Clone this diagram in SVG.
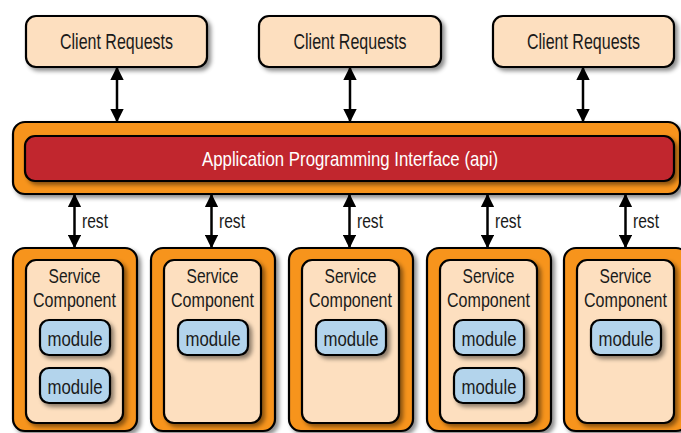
<svg xmlns="http://www.w3.org/2000/svg" width="681" height="433" viewBox="0 0 681 433">
<defs>
<filter id="sh" x="-20%" y="-20%" width="150%" height="150%">
<feDropShadow dx="3" dy="3" stdDeviation="2" flood-color="#000" flood-opacity="0.45"/>
</filter>
<marker id="ah" viewBox="0 0 10 10" refX="9" refY="5" markerWidth="5.4" markerHeight="5.4" markerUnits="strokeWidth" orient="auto-start-reverse">
<path d="M0,0 L10,5 L0,10 z" fill="#000"/>
</marker>
</defs>
<style>
.client{fill:#fddfbf;stroke:#000;stroke-width:2.2;filter:url(#sh)}
.orange{fill:#f7941d;stroke:#000;stroke-width:2.2;filter:url(#sh)}
.beige{fill:#fddfbf;stroke:#000;stroke-width:2.2;filter:url(#sh)}
.red{fill:#c1272d;stroke:#000;stroke-width:2.2;filter:url(#sh)}
.mod{fill:#b3d4ec;stroke:#000;stroke-width:2.2;filter:url(#sh)}
.t{font-family:"Liberation Sans",Arial,sans-serif;fill:#1a1a1a}
.conn line{stroke:#000;stroke-width:2.5;marker-start:url(#ah);marker-end:url(#ah)}
</style>

<g id="client1">
<rect class="client" x="26" y="16" width="181" height="51" rx="10"/>
<text class="t" x="116.5" y="49" font-size="22" text-anchor="middle" textLength="113" lengthAdjust="spacingAndGlyphs">Client Requests</text>
</g>
<g id="client2">
<rect class="client" x="259" y="16" width="182" height="51" rx="10"/>
<text class="t" x="350" y="49" font-size="22" text-anchor="middle" textLength="113" lengthAdjust="spacingAndGlyphs">Client Requests</text>
</g>
<g id="client3">
<rect class="client" x="493" y="16" width="181" height="51" rx="10"/>
<text class="t" x="583.5" y="49" font-size="22" text-anchor="middle" textLength="113" lengthAdjust="spacingAndGlyphs">Client Requests</text>
</g>

<g id="api">
<rect class="orange" x="13" y="122" width="667" height="72" rx="12"/>
<rect class="red" x="25" y="136" width="649" height="45" rx="10"/>
<text class="t" x="350" y="166" font-size="21" text-anchor="middle" style="fill:#fff" textLength="296" lengthAdjust="spacingAndGlyphs">Application Programming Interface (api)</text>
</g>

<g id="svc1">
<rect class="orange" x="13" y="248" width="124" height="183" rx="12"/>
<rect class="beige" x="26" y="260" width="97" height="163" rx="10"/>
<text class="t" x="74.5" y="283" font-size="21" text-anchor="middle" textLength="52" lengthAdjust="spacingAndGlyphs">Service</text>
<text class="t" x="74.5" y="307" font-size="21" text-anchor="middle" textLength="83" lengthAdjust="spacingAndGlyphs">Component</text>
<rect class="mod" x="40" y="320" width="70" height="35" rx="9"/>
<text class="t" x="75" y="346" font-size="21" text-anchor="middle" textLength="55" lengthAdjust="spacingAndGlyphs">module</text>
<rect class="mod" x="40" y="368" width="70" height="35" rx="9"/>
<text class="t" x="75" y="394" font-size="21" text-anchor="middle" textLength="55" lengthAdjust="spacingAndGlyphs">module</text>
</g>

<g id="svc2">
<rect class="orange" x="151" y="248" width="124" height="183" rx="12"/>
<rect class="beige" x="164" y="260" width="97" height="163" rx="10"/>
<text class="t" x="212.5" y="283" font-size="21" text-anchor="middle" textLength="52" lengthAdjust="spacingAndGlyphs">Service</text>
<text class="t" x="212.5" y="307" font-size="21" text-anchor="middle" textLength="83" lengthAdjust="spacingAndGlyphs">Component</text>
<rect class="mod" x="178" y="320" width="70" height="35" rx="9"/>
<text class="t" x="213" y="346" font-size="21" text-anchor="middle" textLength="55" lengthAdjust="spacingAndGlyphs">module</text>
</g>

<g id="svc3">
<rect class="orange" x="289" y="248" width="124" height="183" rx="12"/>
<rect class="beige" x="302" y="260" width="97" height="163" rx="10"/>
<text class="t" x="350.5" y="283" font-size="21" text-anchor="middle" textLength="52" lengthAdjust="spacingAndGlyphs">Service</text>
<text class="t" x="350.5" y="307" font-size="21" text-anchor="middle" textLength="83" lengthAdjust="spacingAndGlyphs">Component</text>
<rect class="mod" x="316" y="320" width="70" height="35" rx="9"/>
<text class="t" x="351" y="346" font-size="21" text-anchor="middle" textLength="55" lengthAdjust="spacingAndGlyphs">module</text>
</g>

<g id="svc4">
<rect class="orange" x="427" y="248" width="124" height="183" rx="12"/>
<rect class="beige" x="440" y="260" width="97" height="163" rx="10"/>
<text class="t" x="488.5" y="283" font-size="21" text-anchor="middle" textLength="52" lengthAdjust="spacingAndGlyphs">Service</text>
<text class="t" x="488.5" y="307" font-size="21" text-anchor="middle" textLength="83" lengthAdjust="spacingAndGlyphs">Component</text>
<rect class="mod" x="454" y="320" width="70" height="35" rx="9"/>
<text class="t" x="489" y="346" font-size="21" text-anchor="middle" textLength="55" lengthAdjust="spacingAndGlyphs">module</text>
<rect class="mod" x="454" y="368" width="70" height="35" rx="9"/>
<text class="t" x="489" y="394" font-size="21" text-anchor="middle" textLength="55" lengthAdjust="spacingAndGlyphs">module</text>
</g>

<g id="svc5">
<rect class="orange" x="564" y="248" width="124" height="183" rx="12"/>
<rect class="beige" x="577" y="260" width="97" height="163" rx="10"/>
<text class="t" x="625.5" y="283" font-size="21" text-anchor="middle" textLength="52" lengthAdjust="spacingAndGlyphs">Service</text>
<text class="t" x="625.5" y="307" font-size="21" text-anchor="middle" textLength="83" lengthAdjust="spacingAndGlyphs">Component</text>
<rect class="mod" x="591" y="320" width="70" height="35" rx="9"/>
<text class="t" x="626" y="346" font-size="21" text-anchor="middle" textLength="55" lengthAdjust="spacingAndGlyphs">module</text>
</g>

<g id="connectors" class="conn">
<line x1="117" y1="68" x2="117" y2="121"/>
<line x1="350" y1="68" x2="350" y2="121"/>
<line x1="583" y1="68" x2="583" y2="121"/>
<line x1="74.5" y1="195" x2="74.5" y2="247"/>
<line x1="211.5" y1="195" x2="211.5" y2="247"/>
<line x1="349.5" y1="195" x2="349.5" y2="247"/>
<line x1="487.5" y1="195" x2="487.5" y2="247"/>
<line x1="625.5" y1="195" x2="625.5" y2="247"/>
<text class="t" x="82" y="228" font-size="20" textLength="26" lengthAdjust="spacingAndGlyphs">rest</text>
<text class="t" x="219" y="228" font-size="20" textLength="26" lengthAdjust="spacingAndGlyphs">rest</text>
<text class="t" x="357" y="228" font-size="20" textLength="26" lengthAdjust="spacingAndGlyphs">rest</text>
<text class="t" x="495" y="228" font-size="20" textLength="26" lengthAdjust="spacingAndGlyphs">rest</text>
<text class="t" x="633" y="228" font-size="20" textLength="26" lengthAdjust="spacingAndGlyphs">rest</text>
</g>
</svg>
